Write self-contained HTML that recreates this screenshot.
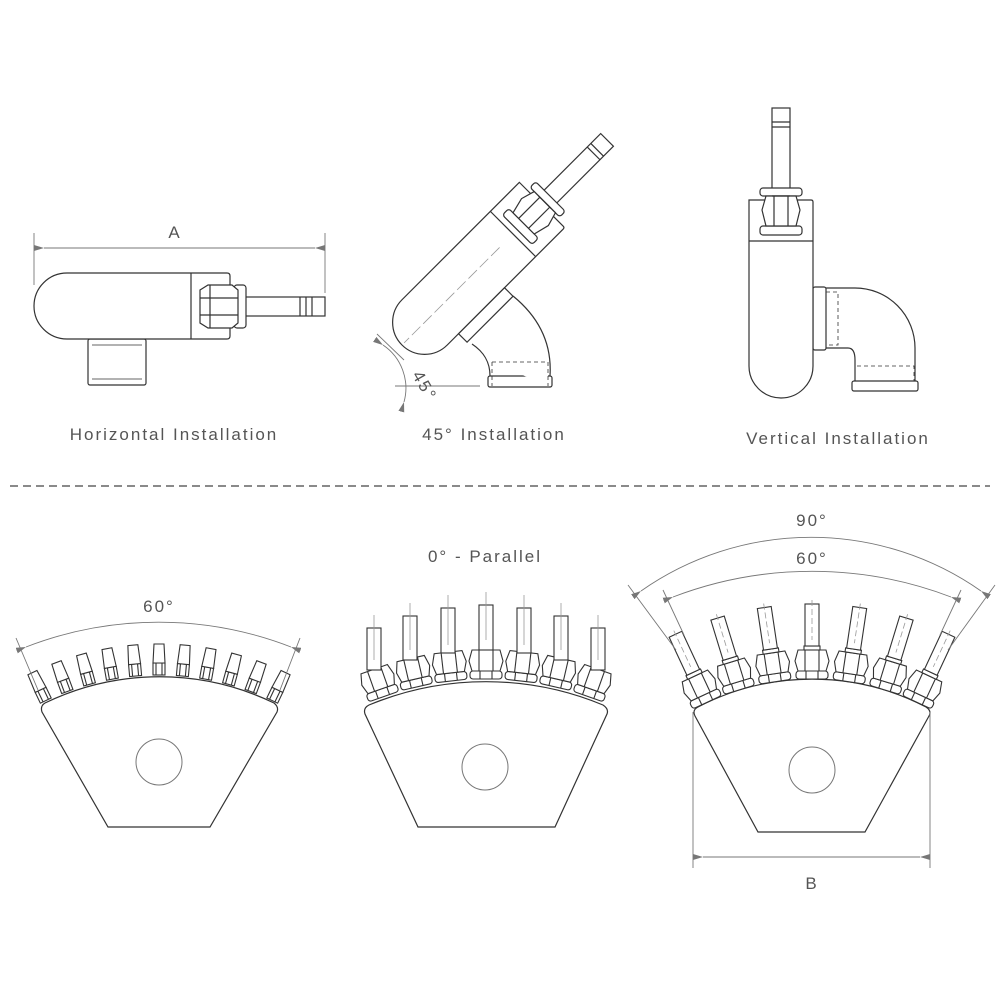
<!DOCTYPE html>
<html><head><meta charset="utf-8"><style>
html,body{margin:0;padding:0;background:#fff}
svg{display:block}
text{font-family:"Liberation Sans",sans-serif;fill:#555;font-size:17px;letter-spacing:2px}
</style></head><body>
<svg width="1000" height="1000" viewBox="0 0 1000 1000" xmlns="http://www.w3.org/2000/svg">
<defs>
<marker id="ar" viewBox="0 0 10 6" refX="0" refY="3" markerWidth="10" markerHeight="6" markerUnits="userSpaceOnUse" orient="auto-start-reverse">
<path d="M10,0 L0,3 L10,6 Z" fill="#777"/></marker>
<g id="n1" fill="#fff" stroke="#333" stroke-width="1.1">
<rect x="-6" y="-12" width="12" height="12"/>
<line x1="-3" y1="-12" x2="-3" y2="0"/><line x1="3" y1="-12" x2="3" y2="0"/>
<path d="M-6,-12 L-5,-31 H5 L6,-12 Z"/>
</g>
<g id="n2" fill="#fff" stroke="#333" stroke-width="1.1">
<rect x="-16" y="-9" width="32" height="8" rx="3"/>
<line x1="-6" y1="-9" x2="-6" y2="-1"/><line x1="6" y1="-9" x2="6" y2="-1"/>
<path d="M-14,-9 L-17,-19 L-14,-30 H14 L17,-19 L14,-9 Z"/>
<line x1="-7" y1="-30" x2="-7" y2="-9"/><line x1="7" y1="-30" x2="7" y2="-9"/>
</g>
<g id="n3" fill="#fff" stroke="#333" stroke-width="1.1">
<use href="#n2"/>
<rect x="-8" y="-34" width="16" height="4"/>
<rect x="-7" y="-76" width="14" height="42"/>
<line x1="0" y1="-80" x2="0" y2="-40" stroke="#999" stroke-width="0.8" stroke-dasharray="6,3"/>
</g>
<g id="body" fill="#fff" stroke="#333" stroke-width="1.2">
<path d="M-32,0 H30 Q32,0 32,2 V166 A32,32 0 0 1 -32,166 Z"/>
<line x1="-32" y1="41" x2="32" y2="41"/>
<rect x="-9" y="-92" width="18" height="82"/>
<line x1="-9" y1="-78" x2="9" y2="-78"/><line x1="-9" y1="-73" x2="9" y2="-73"/>
<rect x="-21" y="-12" width="42" height="8" rx="3"/>
<rect x="-21" y="26" width="42" height="9" rx="3"/>
<path d="M-15,-4 L-19,10 L-15,26 H15 L19,10 L15,-4 Z"/>
<line x1="-7" y1="-4" x2="-7" y2="26"/><line x1="7" y1="-4" x2="7" y2="26"/>
<line x1="-9" y1="-4" x2="9" y2="-4"/>
</g>
</defs>

<!-- Horizontal installation -->
<g fill="#fff" stroke="#333" stroke-width="1.2">
<rect x="88" y="339" width="58" height="46" rx="2"/>
<line x1="92" y1="345" x2="142" y2="345" stroke-width="0.8"/>
<line x1="92" y1="379" x2="142" y2="379" stroke-width="0.8"/>
<path d="M67,273 H227 Q230,273 230,276 V336 Q230,339 227,339 H67 A33,33 0 0 1 67,273 Z"/>
<line x1="191" y1="273" x2="191" y2="339"/>
<rect x="245" y="297" width="80" height="19"/>
<line x1="300" y1="297" x2="300" y2="316"/><line x1="306" y1="297" x2="306" y2="316"/><line x1="312" y1="297" x2="312" y2="316"/>
<rect x="234" y="285" width="12" height="43" rx="3"/>
<path d="M200,290 L208,285 H232 L238,290 V323 L232,328 H208 L200,323 Z"/>
<line x1="200" y1="298" x2="238" y2="298"/><line x1="200" y1="315" x2="238" y2="315"/>
<line x1="210" y1="285" x2="210" y2="328"/>
</g>
<g stroke="#777" stroke-width="0.9" fill="none">
<line x1="34" y1="233" x2="34" y2="285"/><line x1="325" y1="233" x2="325" y2="293"/>
<line x1="44" y1="248" x2="315" y2="248" marker-start="url(#ar)" marker-end="url(#ar)"/>
</g>
<text x="175" y="238" text-anchor="middle">A</text>
<text x="174" y="440" text-anchor="middle">Horizontal Installation</text>

<!-- 45 degree -->
<g fill="#fff" stroke="#333" stroke-width="1.2">
<path d="M513,296 C540,318 552,345 550,376 M472,344 C484,352 490,362 490,376"/>
<rect x="488" y="376" width="64" height="11" rx="2"/>
<path d="M492,362 H548 V386 M492,362 V386" stroke-dasharray="4,3" stroke-width="0.8"/>
</g>
<g transform="translate(542,205) rotate(45)">
<use href="#body"/>
<rect x="32" y="85" width="12" height="65" fill="#fff" stroke="#333" stroke-width="1.2"/>
<line x1="0" y1="60" x2="0" y2="195" stroke="#999" stroke-width="0.8" stroke-dasharray="12,4"/>
</g>
<g stroke="#777" stroke-width="0.9" fill="none">
<line x1="395" y1="386" x2="480" y2="386"/>
<line x1="377" y1="334" x2="404" y2="360"/>
<path d="M383,345 A52,52 0 0 1 404,402" marker-start="url(#ar)" marker-end="url(#ar)"/>
</g>
<text x="417" y="378" font-size="14" transform="rotate(60 417 372)">45°</text>
<text x="494" y="440" text-anchor="middle">45° Installation</text>

<!-- Vertical -->
<g fill="#fff" stroke="#333" stroke-width="1.2">
<path d="M826,288 H855 A60,60 0 0 1 915,348 V381 M826,348 H848 Q855,348 855,360 V381"/>
<rect x="813" y="287" width="13" height="63" rx="2"/>
<rect x="852" y="381" width="66" height="10" rx="2"/>
<path d="M826,292 H838 V345 H826 M857,366 H914 V381" fill="none" stroke-dasharray="4,3" stroke-width="0.8"/>
</g>
<g transform="translate(781,200)"><use href="#body"/></g>
<text x="838" y="444" text-anchor="middle">Vertical Installation</text>

<line x1="10" y1="486" x2="990" y2="486" stroke="#444" stroke-width="1.2" stroke-dasharray="8,5"/>

<!-- Fan 1 -->
<g fill="#fff" stroke="#333" stroke-width="1.2">
<path d="M45,703 A263,263 0 0 1 274,703 Q279,707 277,712 L210,827 H108 L42,712 Q40,706 45,703 Z"/>
<circle cx="159" cy="762" r="23" stroke="#777" stroke-width="1"/>
</g>
<g transform="translate(159,938)">
<g transform="rotate(-25.5)"><use href="#n1" y="-263"/></g>
<g transform="rotate(-20.4)"><use href="#n1" y="-263"/></g>
<g transform="rotate(-15.3)"><use href="#n1" y="-263"/></g>
<g transform="rotate(-10.2)"><use href="#n1" y="-263"/></g>
<g transform="rotate(-5.1)"><use href="#n1" y="-263"/></g>
<use href="#n1" y="-263"/>
<g transform="rotate(5.1)"><use href="#n1" y="-263"/></g>
<g transform="rotate(10.2)"><use href="#n1" y="-263"/></g>
<g transform="rotate(15.3)"><use href="#n1" y="-263"/></g>
<g transform="rotate(20.4)"><use href="#n1" y="-263"/></g>
<g transform="rotate(25.5)"><use href="#n1" y="-263"/></g>
</g>
<g stroke="#777" stroke-width="0.9" fill="none">
<line x1="16" y1="638" x2="38" y2="690"/><line x1="300" y1="638" x2="280" y2="690"/>
<path d="M26,647 A366,366 0 0 1 291,647" marker-start="url(#ar)" marker-end="url(#ar)"/>
</g>
<text x="159" y="612" text-anchor="middle">60°</text>

<!-- Fan 2 -->
<g fill="#fff" stroke="#333" stroke-width="1.2">
<path d="M369,705 A305,305 0 0 1 603,705 Q609,709 607,714 L555,827 H418 L365,714 Q363,708 369,705 Z"/>
<circle cx="485" cy="767" r="23" stroke="#777" stroke-width="1"/>
</g>
<g transform="translate(486,985)">
<g transform="rotate(-19.5)"><use href="#n2" y="-305"/></g>
<g transform="rotate(-13)"><use href="#n2" y="-305"/></g>
<g transform="rotate(-6.5)"><use href="#n2" y="-305"/></g>
<use href="#n2" y="-305"/>
<g transform="rotate(6.5)"><use href="#n2" y="-305"/></g>
<g transform="rotate(13)"><use href="#n2" y="-305"/></g>
<g transform="rotate(19.5)"><use href="#n2" y="-305"/></g>
</g>
<g fill="#fff" stroke="#333" stroke-width="1.1">
<rect x="367" y="628" width="14" height="42"/>
<rect x="403" y="616" width="14" height="44"/>
<rect x="441" y="608" width="14" height="45"/>
<rect x="479" y="605" width="14" height="45"/>
<rect x="517" y="608" width="14" height="45"/>
<rect x="554" y="616" width="14" height="44"/>
<rect x="591" y="628" width="14" height="42"/>
</g>
<g stroke="#999" stroke-width="0.8">
<line x1="374" y1="615" x2="374" y2="660"/><line x1="410" y1="603" x2="410" y2="650"/>
<line x1="448" y1="595" x2="448" y2="645"/><line x1="486" y1="592" x2="486" y2="640"/>
<line x1="524" y1="595" x2="524" y2="645"/><line x1="561" y1="603" x2="561" y2="650"/>
<line x1="598" y1="615" x2="598" y2="660"/>
</g>
<text x="485" y="562" text-anchor="middle">0° - Parallel</text>

<!-- Fan 3 -->
<g fill="#fff" stroke="#333" stroke-width="1.2">
<path d="M698,707 A247,247 0 0 1 926,707 Q932,711 929,716 L865,832 H758 L695,716 Q692,710 698,707 Z"/>
<circle cx="812" cy="770" r="23" stroke="#777" stroke-width="1"/>
</g>
<g transform="translate(812,927)">
<g transform="rotate(-25)"><use href="#n3" y="-247"/></g>
<g transform="rotate(-17)"><use href="#n3" y="-247"/></g>
<g transform="rotate(-8.5)"><use href="#n3" y="-247"/></g>
<use href="#n3" y="-247"/>
<g transform="rotate(8.5)"><use href="#n3" y="-247"/></g>
<g transform="rotate(17)"><use href="#n3" y="-247"/></g>
<g transform="rotate(25)"><use href="#n3" y="-247"/></g>
</g>
<g stroke="#777" stroke-width="0.9" fill="none">
<line x1="628" y1="585" x2="676" y2="650"/><line x1="995" y1="585" x2="948" y2="650"/>
<line x1="663" y1="590" x2="684" y2="635"/><line x1="961" y1="590" x2="940" y2="635"/>
<path d="M641,591 A296,296 0 0 1 981,591" marker-start="url(#ar)" marker-end="url(#ar)"/>
<path d="M673,597 A389,389 0 0 1 951,597" marker-start="url(#ar)" marker-end="url(#ar)"/>
<line x1="693" y1="712" x2="693" y2="868"/><line x1="930" y1="712" x2="930" y2="868"/>
<line x1="703" y1="857" x2="920" y2="857" marker-start="url(#ar)" marker-end="url(#ar)"/>
</g>
<text x="812" y="526" text-anchor="middle">90°</text>
<text x="812" y="564" text-anchor="middle">60°</text>
<text x="812" y="889" text-anchor="middle">B</text>
</svg>
</body></html>
